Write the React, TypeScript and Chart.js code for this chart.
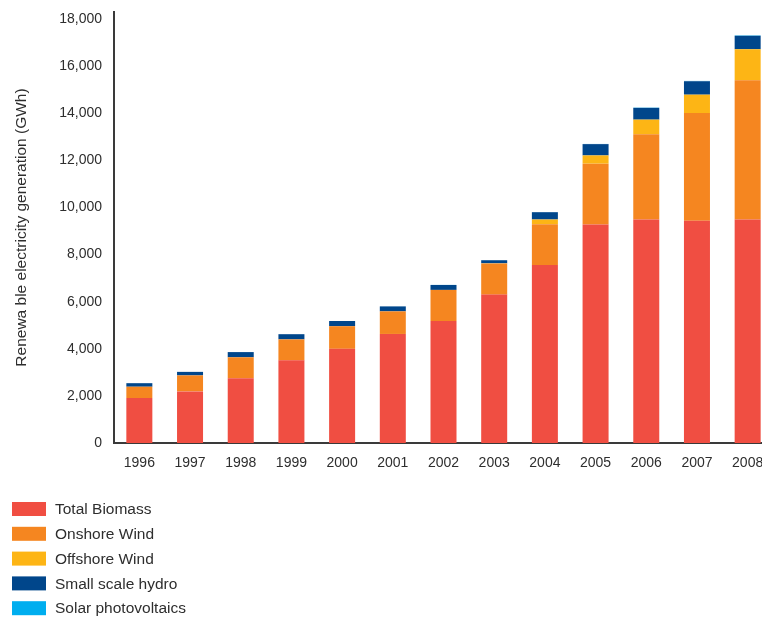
import React, { useEffect, useRef } from "react";
import { Chart, registerables } from "chart.js";

Chart.register(...registerables);

const years = ["1996", "1997", "1998", "1999", "2000", "2001", "2002", "2003", "2004", "2005", "2006", "2007", "2008"];
const totalBiomass = [1910, 2190, 2750, 3510, 4000, 4630, 5180, 6300, 7560, 9280, 9490, 9440, 9490];
const onshoreWind = [480, 680, 890, 890, 960, 960, 1320, 1320, 1730, 2580, 3620, 4570, 5910];
const offshoreWind = [0, 0, 0, 0, 0, 0, 0, 10, 200, 350, 620, 780, 1320];
const smallHydro = [150, 150, 220, 220, 220, 210, 210, 130, 310, 480, 500, 570, 570];
const solarPV = [1, 1, 1, 1, 1, 2, 3, 3, 4, 8, 11, 14, 17];

const seriesNames = ["Total Biomass", "Onshore Wind", "Offshore Wind", "Small scale hydro", "Solar photovoltaics"];
const seriesColors = ["#F04E42", "#F58620", "#FDB515", "#00468B", "#00AEEF"];
const yTickValues = [0, 2000, 4000, 6000, 8000, 10000, 12000, 14000, 16000, 18000];
const yTitle = "Renewa ble electricity generation (GWh)";

const FONT = "'Liberation Sans', Arial, sans-serif";
const TEXT = "#2e2e2e";

const legendPlugin = {
  id: "leftLegend",
  afterDraw(chart: any) {
    const ctx = chart.ctx;
    ctx.save();
    ctx.font = `15.5px ${FONT}`;
    ctx.textBaseline = "middle";
    ctx.textAlign = "left";
    chart.data.datasets.forEach((ds: any, i: number) => {
      const cy = 509 + i * 24.8;
      ctx.fillStyle = ds.backgroundColor;
      ctx.fillRect(12, cy - 7, 34, 14);
      ctx.fillStyle = TEXT;
      ctx.fillText(ds.label, 55, cy + 1);
    });
    ctx.restore();
  },
};

export default function App() {
  const ref = useRef<HTMLCanvasElement | null>(null);
  useEffect(() => {
    if (!ref.current) return;
    const values = [totalBiomass, onshoreWind, offshoreWind, smallHydro, solarPV];
    const chart = new Chart(ref.current, {
      type: "bar",
      data: {
        labels: years,
        datasets: values.map((v, i) => ({
          label: seriesNames[i],
          data: v,
          backgroundColor: seriesColors[i],
          borderWidth: 0,
          barPercentage: 0.513,
          categoryPercentage: 1,
        })),
      },
      options: {
        animation: false,
        responsive: false,
        maintainAspectRatio: false,
        layout: { padding: { top: 12, left: 0, right: 3, bottom: 0 } },
        plugins: { legend: { display: false }, tooltip: { enabled: false } },
        scales: {
          x: {
            stacked: true,
            grid: { display: false, drawTicks: false },
            border: { display: true, color: "#3a3a3a", width: 2 },
            ticks: { color: TEXT, font: { family: FONT, size: 14 }, padding: 12, maxRotation: 0 },
            afterFit: (s: any) => { s.height = 174; s.paddingLeft = 0; s.paddingRight = 0; },
          },
          y: {
            stacked: true,
            min: 0,
            max: 18300,
            grid: { display: false, drawTicks: false },
            border: { display: true, color: "#3a3a3a", width: 2 },
            ticks: {
              autoSkip: false,
              color: TEXT,
              font: { family: FONT, size: 14 },
              padding: 12,
              callback: (v: any) => Number(v).toLocaleString("en-US"),
            },
            afterBuildTicks: (s: any) => {
              s.ticks = yTickValues.map((v) => ({ value: v }));
            },
            afterFit: (s: any) => { s.width = 114; s.paddingTop = 0; s.paddingBottom = 0; },
            title: {
              display: true,
              text: yTitle,
              color: TEXT,
              font: { family: FONT, size: 15.5 },
              padding: { top: 12, bottom: 0 },
            },
          },
        },
      },
      plugins: [legendPlugin],
    });
    return () => chart.destroy();
  }, []);
  return (
    <div style={{ position: "fixed", left: 0, top: 0, width: 762, height: 617, overflow: "hidden", background: "#fff" }}>
      <canvas ref={ref} width={776} height={617} style={{ display: "block", width: 776, height: 617 }} />
    </div>
  );
}
